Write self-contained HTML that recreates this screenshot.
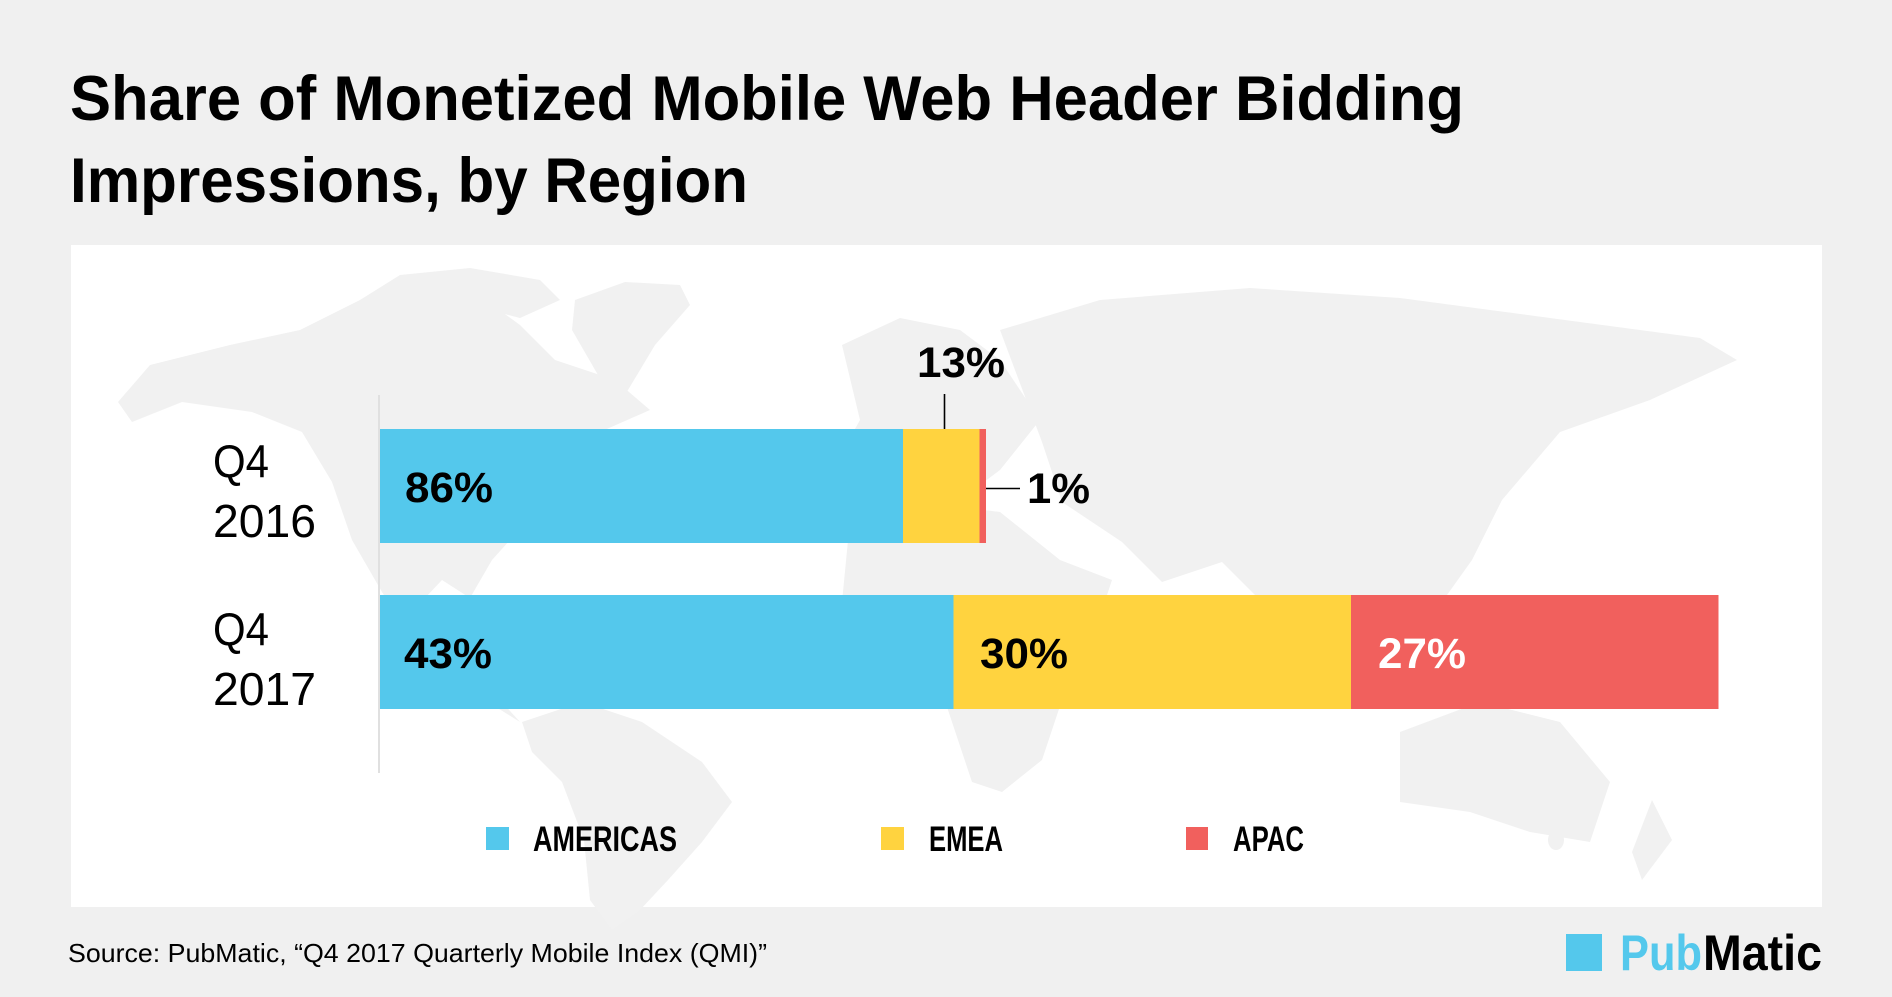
<!DOCTYPE html>
<html>
<head>
<meta charset="utf-8">
<style>
  html,body{margin:0;padding:0;background:#f0f0f0;}
  svg{display:block;}
  .t{font-family:"Liberation Sans",sans-serif;}
</style>
</head>
<body>
<svg width="1892" height="997" viewBox="0 0 1892 997" xmlns="http://www.w3.org/2000/svg">
  <rect x="0" y="0" width="1892" height="997" fill="#f0f0f0"/>

  <!-- Title -->
  <text class="t" x="70" y="120" font-size="63" font-weight="bold" fill="#000" textLength="1394" lengthAdjust="spacingAndGlyphs">Share of Monetized Mobile Web Header Bidding</text>
  <text class="t" x="70" y="202" font-size="63" font-weight="bold" fill="#000" textLength="678" lengthAdjust="spacingAndGlyphs">Impressions, by Region</text>

  <!-- Panel -->
  <rect x="71" y="245" width="1751" height="662" fill="#ffffff"/>

  <!-- Faint world map -->
  <g fill="#f1f1f1">
    <!-- North America -->
    <polygon points="118,402 150,365 230,345 300,330 360,300 420,288 480,296 520,325 555,360 615,380 650,410 600,432 565,460 545,500 510,540 492,560 470,598 442,580 425,598 462,648 500,700 520,722 488,702 420,652 382,592 352,540 332,482 302,432 252,412 182,402 132,422"/>
    <!-- Arctic islands -->
    <polygon points="360,300 400,275 470,268 540,280 560,300 520,318 470,305 420,300"/>
    <!-- Greenland -->
    <polygon points="575,300 625,282 680,285 690,305 655,345 625,395 598,375 572,330"/>
    <!-- South America -->
    <polygon points="522,722 582,702 642,722 702,762 732,802 702,842 668,880 640,910 612,930 590,900 584,840 562,782 532,752"/>
    <!-- Europe -->
    <polygon points="900,318 960,330 1000,360 1040,420 1000,470 960,500 880,500 832,470 860,420 842,345"/>
    <!-- Africa -->
    <polygon points="850,520 920,502 1000,512 1060,560 1112,580 1092,640 1062,700 1042,760 1002,792 972,782 952,722 932,662 882,652 842,602"/>
    <!-- Asia -->
    <polygon points="1000,330 1100,300 1250,288 1400,298 1550,318 1700,338 1737,360 1650,400 1560,432 1502,500 1472,560 1442,602 1402,642 1342,602 1302,642 1262,602 1222,562 1162,582 1122,542 1062,502 1042,442"/>
    <!-- Indonesia -->
    <ellipse cx="1420" cy="670" rx="30" ry="10"/>
    <ellipse cx="1490" cy="665" rx="25" ry="12"/>
    <ellipse cx="1550" cy="680" rx="30" ry="10"/>
    <!-- Australia -->
    <polygon points="1400,732 1480,702 1560,722 1610,782 1590,842 1530,832 1470,812 1400,802"/>
    <ellipse cx="1556" cy="840" rx="8" ry="10"/>
    <!-- New Zealand -->
    <polygon points="1652,800 1672,840 1642,880 1632,852"/>
  </g>

  <!-- Axis line -->
  <line x1="379" y1="395" x2="379" y2="773" stroke="#e0e0e0" stroke-width="2"/>

  <!-- Bar Q4 2016 -->
  <rect x="380" y="429" width="523" height="114" fill="#54c8ec"/>
  <rect x="903" y="429" width="76.5" height="114" fill="#ffd33f"/>
  <rect x="979.5" y="429" width="6.5" height="114" fill="#f1605d"/>

  <!-- Bar Q4 2017 -->
  <rect x="380" y="595" width="573.5" height="114" fill="#54c8ec"/>
  <rect x="953.5" y="595" width="397.5" height="114" fill="#ffd33f"/>
  <rect x="1351" y="595" width="367.5" height="114" fill="#f1605d"/>

  <!-- Category labels -->
  <text class="t" x="213" y="477" font-size="46" fill="#000" textLength="56" lengthAdjust="spacingAndGlyphs">Q4</text>
  <text class="t" x="213" y="537" font-size="46" fill="#000" textLength="103" lengthAdjust="spacingAndGlyphs">2016</text>
  <text class="t" x="213" y="645" font-size="46" fill="#000" textLength="56" lengthAdjust="spacingAndGlyphs">Q4</text>
  <text class="t" x="213" y="705" font-size="46" fill="#000" textLength="103" lengthAdjust="spacingAndGlyphs">2017</text>

  <!-- Value labels -->
  <text class="t" x="405" y="502" font-size="43" font-weight="bold" fill="#000" textLength="88" lengthAdjust="spacingAndGlyphs">86%</text>
  <text class="t" x="404" y="668" font-size="43" font-weight="bold" fill="#000" textLength="88" lengthAdjust="spacingAndGlyphs">43%</text>
  <text class="t" x="980" y="668" font-size="43" font-weight="bold" fill="#000" textLength="88" lengthAdjust="spacingAndGlyphs">30%</text>
  <text class="t" x="1378" y="668" font-size="43" font-weight="bold" fill="#fff" textLength="88" lengthAdjust="spacingAndGlyphs">27%</text>
  <text class="t" x="917" y="377" font-size="43" font-weight="bold" fill="#000" textLength="88" lengthAdjust="spacingAndGlyphs">13%</text>
  <text class="t" x="1027" y="503" font-size="43" font-weight="bold" fill="#000" textLength="63" lengthAdjust="spacingAndGlyphs">1%</text>

  <!-- Leader lines -->
  <line x1="944.5" y1="394" x2="944.5" y2="429" stroke="#000" stroke-width="1.6"/>
  <line x1="986" y1="488.5" x2="1020" y2="488.5" stroke="#000" stroke-width="1.6"/>

  <!-- Legend -->
  <rect x="486" y="827" width="23" height="23" fill="#54c8ec"/>
  <text class="t" x="533" y="851" font-size="35" font-weight="bold" fill="#000" textLength="144" lengthAdjust="spacingAndGlyphs">AMERICAS</text>
  <rect x="881" y="827" width="23" height="23" fill="#ffd33f"/>
  <text class="t" x="929" y="851" font-size="35" font-weight="bold" fill="#000" textLength="74" lengthAdjust="spacingAndGlyphs">EMEA</text>
  <rect x="1186" y="827" width="22" height="23" fill="#f1605d"/>
  <text class="t" x="1233" y="851" font-size="35" font-weight="bold" fill="#000" textLength="71" lengthAdjust="spacingAndGlyphs">APAC</text>

  <!-- Source -->
  <text class="t" x="68" y="962" font-size="26" fill="#000" textLength="699" lengthAdjust="spacingAndGlyphs">Source: PubMatic, “Q4 2017 Quarterly Mobile Index (QMI)”</text>

  <!-- Logo -->
  <rect x="1566" y="934" width="36" height="37" fill="#54c8ec"/>
  <text class="t" x="1620" y="970" font-size="50" font-weight="bold" fill="#54c8ec" textLength="82" lengthAdjust="spacingAndGlyphs">Pub</text>
  <text class="t" x="1703" y="970" font-size="50" font-weight="bold" fill="#000" textLength="119" lengthAdjust="spacingAndGlyphs">Matic</text>
</svg>
</body>
</html>
